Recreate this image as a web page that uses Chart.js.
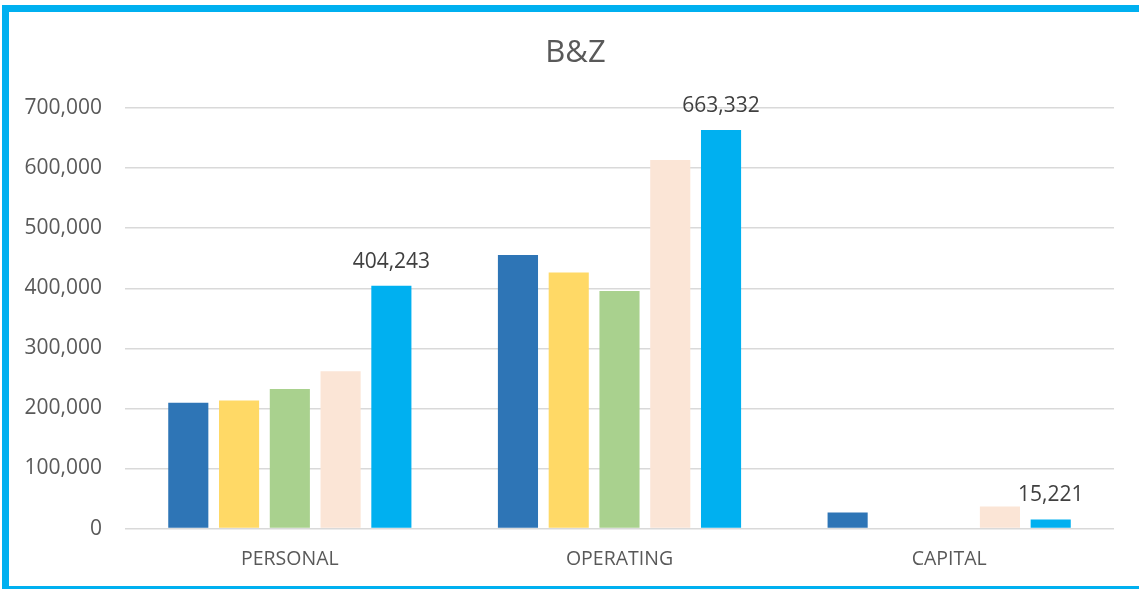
<!DOCTYPE html>
<html>
<head>
<meta charset="utf-8">
<script src="https://cdn.jsdelivr.net/npm/chart.js@4.4.0/dist/chart.umd.min.js"></script>
<style>
  html, body { margin: 0; padding: 0; background: #ffffff; overflow: hidden; }
  #wrap { position: absolute; left: 0; top: 0; width: 1139px; height: 589px; }
  #frame { position: absolute; left: 2px; top: 5px; width: 1160px; height: 574px;
           border: 7px solid #00B0F0; pointer-events: none; z-index: 2; }
  canvas { position: absolute; left: 0; top: 0; }
</style>
</head>
<body>
<div id="wrap">
  <canvas id="c" width="1139" height="589"></canvas>
  <div id="frame"></div>
</div>
<script>
const chartTitle = 'B&Z';
const categories = ['PERSONAL', 'OPERATING', 'CAPITAL'];
const seriesNames = ['Series 1', 'Series 2', 'Series 3', 'Series 4', 'Series 5'];
const series1 = [209500, 455500, 26700];
const series2 = [213300, 426100, 0];
const series3 = [232200, 395500, 0];
const series4 = [261700, 613300, 36700];
const series5 = [404243, 663332, 15221];
const seriesColors = ['#2E75B6', '#FFD966', '#A9D18E', '#FBE5D6', '#00B0F0'];
const yTickMax = 700000;
const yTickStep = 100000;
const labelledSeries = 4;

const allSeries = [series1, series2, series3, series4, series5];
const fmt = v => Number(v).toLocaleString('en-US');

const dataLabelPlugin = {
  id: 'dataLabels',
  afterDatasetsDraw(chart) {
    const ctx = chart.ctx;
    const meta = chart.getDatasetMeta(labelledSeries);
    const data = chart.data.datasets[labelledSeries].data;
    ctx.save();
    ctx.font = '21px "Open Sans"';
    ctx.fillStyle = '#404040';
    ctx.textAlign = 'center';
    ctx.textBaseline = 'middle';
    meta.data.forEach((bar, i) => {
      ctx.fillText(fmt(data[i]), bar.x, bar.y - 24);
    });
    ctx.restore();
  }
};

const titlePlugin = {
  id: 'offsetTitle',
  afterDraw(chart) {
    const ctx = chart.ctx;
    ctx.save();
    ctx.font = '31px "Open Sans"';
    ctx.fillStyle = '#595959';
    ctx.textAlign = 'center';
    ctx.textBaseline = 'middle';
    ctx.fillText(chartTitle, 575.5, 53);
    ctx.restore();
  }
};

new Chart(document.getElementById('c'), {
  type: 'bar',
  data: {
    labels: categories,
    datasets: allSeries.map((s, i) => ({
      label: seriesNames[i],
      data: s,
      backgroundColor: seriesColors[i],
      borderWidth: 0,
      categoryPercentage: 0.77,
      barPercentage: 0.79
    }))
  },
  options: {
    responsive: false,
    animation: false,
    layout: { padding: { left: 10, right: 25, top: 108, bottom: -1 } },
    plugins: {
      legend: { display: false },
      tooltip: { enabled: false },
      title: { display: false }
    },
    scales: {
      x: {
        grid: { display: false, drawTicks: false },
        border: { display: false },
        ticks: {
          color: '#595959',
          padding: 19,
          font: { family: 'Open Sans', size: 19.5 }
        }
      },
      y: {
        min: 0,
        max: yTickMax,
        afterFit(scale) { scale.width = 115; },
        grid: { color: '#D9D9D9', lineWidth: 1.5, drawTicks: false },
        border: { display: false },
        ticks: {
          stepSize: yTickStep,
          color: '#595959',
          padding: 23,
          font: { family: 'Open Sans', size: 21 },
          callback: v => fmt(v)
        }
      }
    }
  },
  plugins: [dataLabelPlugin, titlePlugin]
});
</script>
</body>
</html>
